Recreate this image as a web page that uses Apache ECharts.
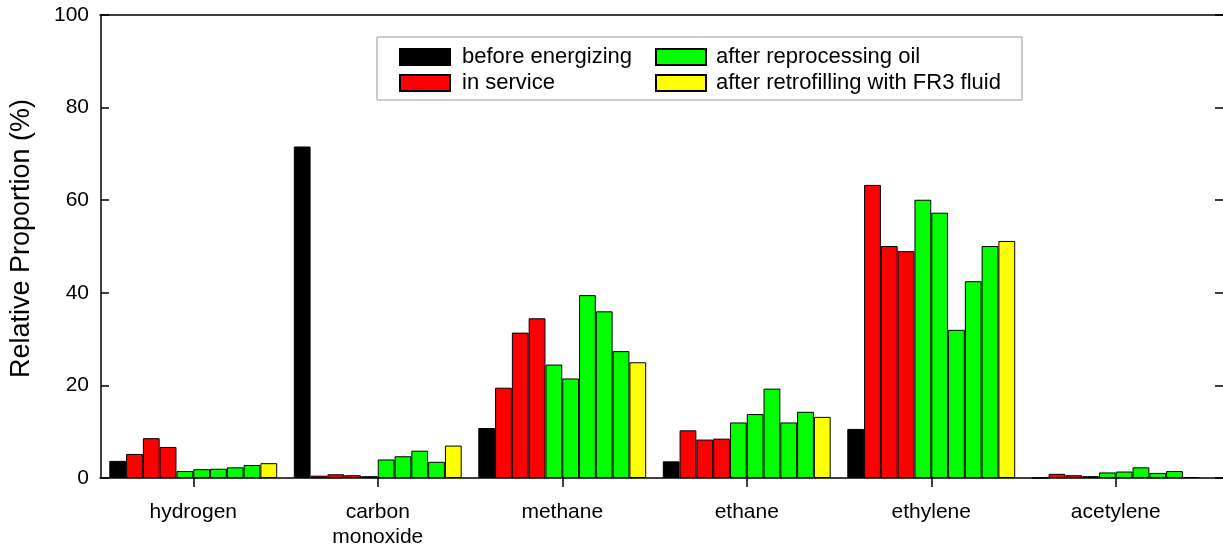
<!DOCTYPE html>
<html>
<head>
<meta charset="utf-8">
<script src="https://cdn.jsdelivr.net/npm/echarts@6/dist/echarts.min.js"></script>
<style>html,body{margin:0;padding:0;background:#fff;}#c{width:1223px;height:550px;}</style>
</head>
<body>
<div id="c"></div>
<script>
// Categories
var gases = ['hydrogen', 'carbon\nmonoxide', 'methane', 'ethane', 'ethylene', 'acetylene'];
// Per-gas values: [before energizing, in service x3, after reprocessing oil x5, after retrofilling]
var hydrogen  = [3.7, 5.2, 8.6, 6.7, 1.5, 1.9, 2.0, 2.3, 2.8, 3.2];
var carbonMonoxide = [71.6, 0.5, 0.8, 0.6, 0.4, 4.0, 4.7, 5.9, 3.5, 7.0];
var methane   = [10.8, 19.5, 31.4, 34.5, 24.5, 21.5, 39.5, 36.0, 27.4, 25.0];
var ethane    = [3.6, 10.3, 8.3, 8.5, 12.0, 13.8, 19.3, 12.0, 14.3, 13.2];
var ethylene  = [10.6, 63.3, 50.1, 49.0, 60.1, 57.3, 32.0, 42.5, 50.1, 51.2];
var acetylene = [0, 0.9, 0.6, 0.4, 1.2, 1.4, 2.3, 1.1, 1.5, 0.2];
// Series stage names (one per bar slot)
var stageNames = ['before energizing', 'in service', 'in service', 'in service',
  'after reprocessing oil', 'after reprocessing oil', 'after reprocessing oil', 'after reprocessing oil', 'after reprocessing oil',
  'after retrofilling with FR3 fluid'];
var stageColors = {
  'before energizing': '#000000',
  'in service': '#ff0000',
  'after reprocessing oil': '#00ff00',
  'after retrofilling with FR3 fluid': '#ffff00'
};
var yTicks = [0, 20, 40, 60, 80, 100];

var table = [hydrogen, carbonMonoxide, methane, ethane, ethylene, acetylene];
var FONT = 'Liberation Sans, Arial, sans-serif';

var series = stageNames.map(function (name, i) {
  return {
    type: 'bar',
    name: name,
    xAxisIndex: 0,
    yAxisIndex: 0,
    barGap: '0%',
    barCategoryGap: '9%',
    itemStyle: { color: stageColors[name], borderColor: '#000', borderWidth: 1 },
    data: table.map(function (row) { return row[i]; })
  };
});

var chart = echarts.init(document.getElementById('c'), null, { renderer: 'canvas' });
chart.setOption({
  animation: false,
  backgroundColor: '#fff',
  textStyle: { fontFamily: FONT },
  grid: [
    { left: 100, top: 15, width: 1108, bottom: 72, containLabel: false },
    { left: 100, top: 15, width: 1126, bottom: 72, containLabel: false }
  ],
  legend: [
    {
      data: ['before energizing', 'in service'],
      orient: 'vertical', left: 399, top: 46, padding: 0,
      itemWidth: 50, itemHeight: 16, itemGap: 4,
      icon: 'rect',
      textStyle: { fontSize: 22, color: '#000', fontFamily: FONT, padding: [0, 0, 0, 7] }
    },
    {
      data: ['after reprocessing oil', 'after retrofilling with FR3 fluid'],
      orient: 'vertical', left: 655, top: 46, padding: 0,
      itemWidth: 50, itemHeight: 16, itemGap: 4,
      icon: 'rect',
      textStyle: { fontSize: 22, color: '#000', fontFamily: FONT, padding: [0, 0, 0, 5] }
    }
  ],
  graphic: [
    { type: 'rect', shape: { x: 377, y: 37, width: 645, height: 63 },
      style: { fill: 'none', stroke: '#999', lineWidth: 1 }, z: 100 }
  ],
  xAxis: [
    {
      type: 'category', gridIndex: 0, data: gases,
      axisLine: { show: false },
      axisTick: { show: true, alignWithLabel: true, length: 9, lineStyle: { color: '#000', width: 1.5 } },
      axisLabel: { fontSize: 21, color: '#000', margin: 22, lineHeight: 25, fontFamily: FONT }
    },
    {
      type: 'value', gridIndex: 1, position: 'bottom', min: 0, max: 1,
      axisLine: { show: true, onZero: false, lineStyle: { color: '#000', width: 1.5 } },
      axisTick: { show: false }, axisLabel: { show: false }, splitLine: { show: false }
    },
    {
      type: 'value', gridIndex: 1, position: 'top', min: 0, max: 1,
      axisLine: { show: true, onZero: false, lineStyle: { color: '#000', width: 1.5 } },
      axisTick: { show: false }, axisLabel: { show: false }, splitLine: { show: false }
    }
  ],
  yAxis: [
    {
      type: 'value', gridIndex: 0, min: 0, max: 100, interval: 20,
      name: 'Relative Proportion (%)', nameLocation: 'middle', nameGap: 66, nameRotate: 90,
      nameTextStyle: { fontSize: 27, color: '#000', fontFamily: FONT, padding: [0, 0, 0, 16] },
      axisLine: { show: true, onZero: false, lineStyle: { color: '#000', width: 1.5 } },
      axisTick: { show: true, inside: true, length: 8, lineStyle: { color: '#000', width: 1.5 } },
      axisLabel: { fontSize: 21, color: '#000', margin: 12, fontFamily: FONT,
        formatter: function (v) { return yTicks.indexOf(v) >= 0 ? String(v) : ''; } },
      splitLine: { show: false }
    },
    {
      type: 'value', gridIndex: 1, position: 'right', min: 0, max: 100, interval: 20,
      axisLine: { show: false, onZero: false },
      axisTick: { show: true, inside: true, length: 8, lineStyle: { color: '#000', width: 1.5 } },
      axisLabel: { show: false }, splitLine: { show: false }
    }
  ],
  series: series
});
</script>
</body>
</html>
